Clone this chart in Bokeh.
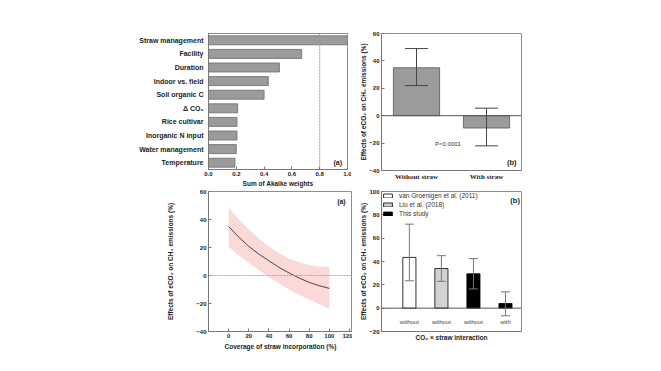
from bokeh.plotting import figure
from bokeh.layouts import column, row
from bokeh.models import (FactorRange, Range1d, FixedTicker, Span, Label, Whisker,
                          ColumnDataSource, TeeHead, Legend, LegendItem, NumeralTickFormatter)
from bokeh.embed import file_html
from bokeh.resources import INLINE

# ---------------- data ----------------
# top-left: importance of predictors
predictors = ["Straw management", "Facility", "Duration", "Indoor vs. field", "Soil organic C",
              "\u0394 CO\u2082", "Rice cultivar", "Inorganic N input", "Water management", "Temperature"]
akaike_weights = [1.0, 0.67, 0.51, 0.43, 0.40, 0.21, 0.205, 0.205, 0.20, 0.19]
akaike_ticks = [0.0, 0.2, 0.4, 0.6, 0.8, 1.0]
akaike_cutoff = 0.8

# top-right: straw vs without straw
straw_groups = ["Without straw", "With straw"]
straw_effect = [35, -9]
straw_lower = [22, -22]
straw_upper = [49, 5.5]
effect_ticks_top = [-40, -20, 0, 20, 40, 60]

# bottom-left: coverage of straw incorporation
coverage = [0, 10, 20, 30, 40, 50, 60, 70, 80, 90, 100]
coverage_mean = [35, 27.5, 20.8, 15.3, 10.5, 5.8, 1.8, -1.8, -4.9, -7.3, -9.2]
coverage_upper = [48.8, 40, 33, 26.5, 20.5, 16, 12, 9.5, 7.5, 6.5, 6]
coverage_lower = [20.6, 14.5, 9, 3.8, -1, -5.8, -10, -13.7, -17.2, -20.6, -24]
coverage_ticks = [0, 20, 40, 60, 80, 100, 120]

# bottom-right: comparison with other studies
study_pos = [1, 2, 3, 4]
study_names = ["van Groenigen et al. (2011)", "Liu et al. (2018)", "This study", "This study"]
study_straw = ["without", "without", "without", "with"]
study_effect = [43.5, 34, 29.5, 4]
study_lower = [23.5, 23, 16.5, -6.5]
study_upper = [72, 45, 42.5, 14]
study_ticks = [-20, 0, 20, 40, 60, 80, 100]

# styles
study_colors = ["white", "#d2d2d2", "black", "black"]
FONT = "Liberation Sans"
YLAB = "Effects of eCO\u2082 on CH\u2084 emissions (%)"


def style(p):
    p.grid.visible = False
    p.outline_line_color = "#8c8c8c"
    p.background_fill_color = "white"
    p.border_fill_color = "white"
    for ax in p.axis:
        ax.major_label_text_font = FONT
        ax.major_label_text_font_style = "bold"
        ax.major_label_text_font_size = "6px"
        ax.major_label_text_color = "#222222"
        ax.axis_label_text_font = FONT
        ax.axis_label_text_font_style = "bold"
        ax.axis_label_text_font_size = "6.5px"
        ax.axis_label_text_color = "#222222"
        ax.minor_tick_line_color = None
        ax.major_tick_in = 3
        ax.major_tick_out = 0
        ax.axis_line_color = "#777777"
        ax.major_tick_line_color = "#777777"
        ax.major_label_standoff = 2
        ax.axis_label_standoff = 1


# ---------------- top-left ----------------
p1 = figure(y_range=FactorRange(*predictors[::-1]), x_range=Range1d(0, 1),
            frame_width=139, frame_height=136, min_border_left=208, min_border_right=4,
            min_border_top=32, min_border_bottom=20, toolbar_location=None, output_backend="svg")
p1.hbar(y=predictors, right=akaike_weights, height=0.66, fill_color="#9b9b9b", line_color="#6a6a6a",
        line_width=0.8)
p1.add_layout(Span(location=akaike_cutoff, dimension="height", line_color="#999999",
                   line_dash="2 1", line_width=1))
style(p1)
p1.xaxis.ticker = FixedTicker(ticks=akaike_ticks)
p1.xaxis.formatter = NumeralTickFormatter(format="0.0")
p1.xaxis.axis_label = "Sum of Akaike weights"
p1.yaxis.major_tick_line_color = None
p1.yaxis.major_label_text_font_size = "7px"
p1.yaxis.major_label_standoff = 5
p1.add_layout(Label(x=0.93, y=0.55, y_units="data", text="(a)", text_font=FONT,
                    text_font_style="bold", text_font_size="7px", text_align="center",
                    text_baseline="middle", text_color="#222222"))

# ---------------- top-right ----------------
p2 = figure(x_range=FactorRange(*straw_groups), y_range=Range1d(-40, 60),
            frame_width=140, frame_height=137, min_border_left=30, min_border_right=10,
            min_border_top=33, min_border_bottom=18, toolbar_location=None, output_backend="svg")
src2 = ColumnDataSource(dict(x=straw_groups, top=straw_effect, lower=straw_lower, upper=straw_upper))
p2.vbar(x="x", top="top", width=0.66, source=src2, fill_color="#9b9b9b", line_color="#555555",
        line_width=0.8)
p2.add_layout(Span(location=0, dimension="width", line_color="#555555", line_width=1))
p2.add_layout(Whisker(source=src2, base="x", lower="lower", upper="upper", line_color="#444444",
                      line_width=1, level="overlay",
                      upper_head=TeeHead(size=23, line_color="#444444", line_width=1),
                      lower_head=TeeHead(size=23, line_color="#444444", line_width=1)))
style(p2)
p2.yaxis.ticker = FixedTicker(ticks=effect_ticks_top)
p2.yaxis.axis_label = YLAB
p2.yaxis.axis_label_standoff = -1
p2.xaxis.major_tick_line_color = None
p2.xaxis.major_label_text_font = "Liberation Serif"
p2.xaxis.major_label_text_font_size = "7px"
p2.xaxis.major_label_standoff = 2
p2.add_layout(Label(x=0.95, y=-20.5, text="P<0.0001", text_font=FONT, text_font_size="6px",
                    text_align="center", text_baseline="middle", text_color="#333333"))
p2.add_layout(Label(x=1.86, y=-34, text="(b)", text_font=FONT, text_font_style="bold",
                    text_font_size="7.5px", text_align="center", text_baseline="middle",
                    text_color="#222222"))

# ---------------- bottom-left ----------------
p3 = figure(x_range=Range1d(-20, 123), y_range=Range1d(-40, 60),
            frame_width=144, frame_height=140, min_border_left=208, min_border_right=0,
            min_border_top=3, min_border_bottom=24, toolbar_location=None, output_backend="svg")
p3.varea(x=coverage, y1=coverage_lower, y2=coverage_upper, fill_color="#fbd9d9", fill_alpha=1)
p3.add_layout(Span(location=0, dimension="width", line_color="#a8a8a8", line_dash="2 1",
                   line_width=1))
p3.line(x=coverage, y=coverage_mean, line_color="#333333", line_width=0.9)
style(p3)
p3.xaxis.ticker = FixedTicker(ticks=coverage_ticks)
p3.yaxis.ticker = FixedTicker(ticks=effect_ticks_top)
p3.xaxis.axis_label = "Coverage of straw incorporation (%)"
p3.xaxis.axis_label_standoff = 2
p3.yaxis.axis_label = YLAB
p3.yaxis.axis_label_standoff = 19
p3.add_layout(Label(x=112, y=53, text="(a)", text_font=FONT, text_font_style="bold",
                    text_font_size="7px", text_align="center", text_baseline="middle",
                    text_color="#222222"))

# ---------------- bottom-right ----------------
p4 = figure(x_range=Range1d(0.13, 4.5), y_range=Range1d(-20, 100),
            frame_width=140, frame_height=140, min_border_left=29, min_border_right=10,
            min_border_top=3, min_border_bottom=24, toolbar_location=None, output_backend="svg")
src4 = ColumnDataSource(dict(x=study_pos, top=study_effect, lower=study_lower, upper=study_upper,
                             name=study_names, color=study_colors, lab=study_straw,
                             ly=[-11.5] * len(study_pos)))
r4 = p4.vbar(x="x", top="top", width=0.41, source=src4, fill_color="color", line_color="black",
             line_width=0.8)
p4.add_layout(Span(location=0, dimension="width", line_color="#555555", line_width=1))
p4.add_layout(Whisker(source=src4, base="x", lower="lower", upper="upper", line_color="#777777",
                      line_width=1, level="overlay",
                      upper_head=TeeHead(size=9, line_color="#777777", line_width=1),
                      lower_head=TeeHead(size=9, line_color="#777777", line_width=1)))
p4.text(x="x", y="ly", text="lab", source=src4, text_font_size="6px", text_align="center",
        text_baseline="middle", text_color="#444444")
style(p4)
p4.yaxis.ticker = FixedTicker(ticks=study_ticks)
p4.yaxis.axis_label = YLAB
p4.yaxis.axis_label_standoff = -1
p4.xaxis.ticker = FixedTicker(ticks=[])
p4.xaxis.axis_label = "CO\u2082 \u00d7 straw interaction"
p4.xaxis.axis_label_standoff = 2
legend = Legend(items=[LegendItem(label=study_names[i], renderers=[r4], index=i) for i in range(3)],
                location="top_left", margin=1, padding=1, spacing=2, glyph_width=11, glyph_height=5,
                label_height=6, label_standoff=6, label_text_font=FONT, label_text_font_size="6.5px",
                label_text_color="#333333", border_line_color=None, background_fill_alpha=0)
p4.add_layout(legend)
p4.add_layout(Label(x=4.3, y=92, text="(b)", text_font=FONT, text_font_style="bold",
                    text_font_size="7.5px", text_align="center", text_baseline="middle",
                    text_color="#222222"))

layout = column(row(p1, p2), row(p3, p4))
open("out.html", "w").write(file_html(layout, INLINE))
